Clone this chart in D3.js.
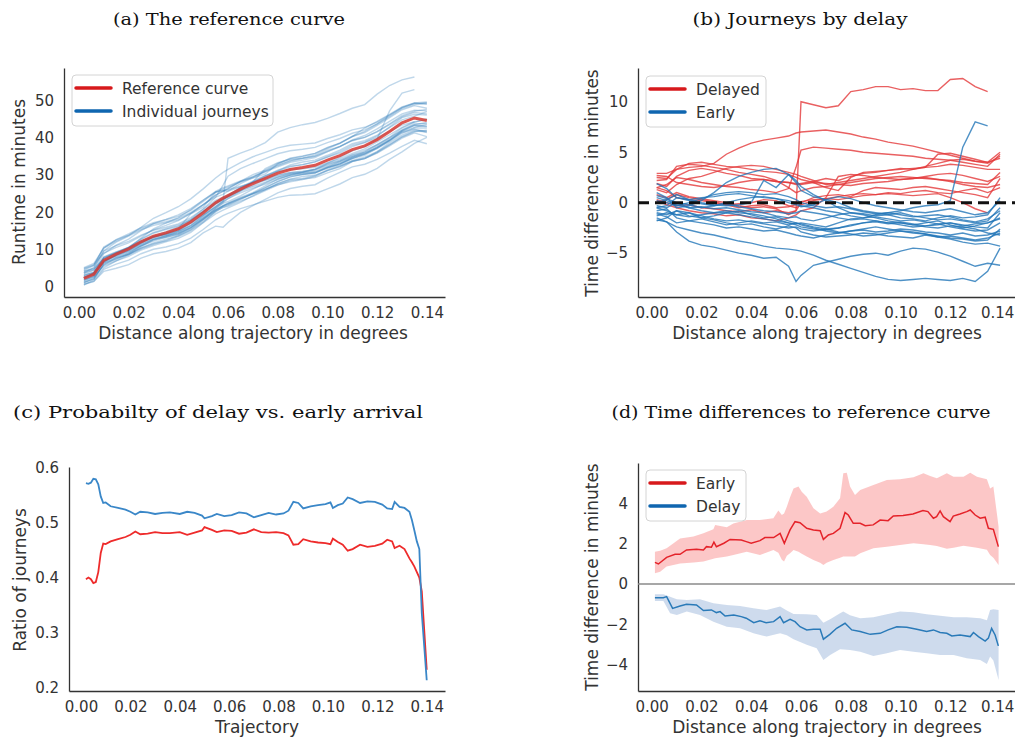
<!DOCTYPE html>
<html lang="en">
<head>
<meta charset="UTF-8">
<title>Reference curve and journey delays</title>
<script src="https://d3js.org/d3.v7.min.js"></script>
<style>
  body { margin: 0; background: #fff; }
  svg text { font-family: "DejaVu Sans", sans-serif; }
</style>
</head>
<body>
<svg width="1015" height="738"></svg>
<script>
// ---------- data ----------

// distance along trajectory (degrees), shared by panels (a) and (b)
const distance = [0.002, 0.006, 0.01, 0.015, 0.02, 0.025, 0.03, 0.035, 0.04, 0.045,
  0.05, 0.055, 0.058, 0.06, 0.065, 0.07, 0.075, 0.08, 0.085, 0.09,
  0.095, 0.1, 0.105, 0.11, 0.115, 0.12, 0.125, 0.13, 0.135, 0.14];

// reference runtime in minutes
const referenceCurve = [2.3, 3.4, 7.1, 8.8, 10.2, 12.1, 13.6, 14.5, 15.6, 17.4,
  19.9, 22.6, 23.8, 24.5, 26.2, 27.7, 29.1, 30.5, 31.5, 32.0,
  32.6, 34.0, 35.2, 36.8, 37.8, 39.5, 41.7, 44.0, 45.3, 44.6];

// time difference to the reference curve, delayed journeys
const delayedDiffs = [
  [0.3, 0.0, -0.3, -0.2, -0.5, -0.6, -0.8, -0.9, -0.7, -1.0, -0.8, -1.0, -0.8, 10.0, 9.7, 9.4, 9.6, 11.0, 11.2, 11.5, 11.5, 11.2, 11.3, 11.1, 11.1, 12.2, 12.3, 11.5, 11.0, null],
  [2.9, 2.9, 3.3, 3.5, 3.6, 3.9, 4.8, 5.4, 5.9, 6.2, 6.4, 6.6, 6.9, 7.0, 7.1, 7.2, 7.0, 6.8, 6.5, 6.3, 6.0, 5.8, 5.6, 5.3, 5.0, 4.7, 4.4, 4.1, 3.9, 4.6],
  [1.5, 1.8, 2.5, 2.3, 2.0, 1.8, 1.6, 1.5, 1.3, 1.2, 1.0, 1.4, 3.5, 5.2, 5.5, 5.4, 5.3, 5.2, 5.0, 4.9, 4.8, 4.7, 4.6, 4.4, 4.3, 4.2, 4.0, 3.8, 3.6, 4.8],
  [2.2, 2.3, 3.6, 3.8, 3.7, 3.5, 3.3, 3.0, 2.8, 2.6, 2.2, 1.5, 1.0, 1.2, 1.5, 1.6, 1.8, 2.0, 2.2, 2.4, 2.5, 2.6, 2.5, 2.4, 2.3, 2.2, 2.0, 1.9, 1.8, 3.0],
  [2.5, 2.4, 3.3, 3.9, 4.0, 3.8, 3.6, 3.5, 3.3, 3.1, 3.0, 2.8, 2.5, 2.3, 2.0, 1.5, 1.2, 2.5, 3.0, 3.1, 3.2, 3.3, 3.4, 3.5, 4.8, 4.9, 4.6, 4.3, 4.0, 4.4],
  [0.8, 0.5, 1.0, 0.6, 0.4, 0.2, 0.0, -0.3, -0.5, -0.4, -0.6, -1.2, -0.8, 0.0, 0.5, 0.7, 0.8, 0.6, 1.2, 1.5, 1.4, 1.3, 1.5, 1.6, 1.4, 1.2, 1.0, 0.8, 0.5, 2.4],
  [1.5, 1.2, 0.5, 0.3, 0.2, 0.0, -0.2, -0.1, 0.0, 0.3, 0.2, -0.3, -0.5, -0.2, 0.2, 0.4, 0.3, 0.5, 0.7, 0.8, 0.9, 0.8, 0.7, 0.8, 0.9, 0.5, 0.0, -0.6, -1.0, null],
  [2.7, 2.6, 2.0, 1.8, 1.6, 1.5, 1.7, 2.0, 2.2, 2.3, 2.1, 2.0, 1.8, 1.9, 2.1, 2.4, 2.2, 2.6, 2.9, 3.0, 3.2, 3.4, 3.3, 3.5, 3.6, 3.8, 3.7, 3.5, 3.3, 3.3],
  [0.2, -0.2, -0.5, -0.8, -1.0, -1.1, -1.3, -1.2, -1.5, -1.6, -1.8, -1.5, -1.2, -0.8, -0.5, 0.5, 2.6, 2.8, 2.7, 2.5, 2.4, 2.3, 2.4, 2.5, 2.3, 2.1, 1.8, 1.6, 1.5, 1.8],
  [1.9, 1.6, 2.6, 3.2, 3.4, 3.2, 2.9, 2.7, 2.4, 2.3, 2.1, 2.0, 1.9, 1.8, 2.0, 1.9, 1.8, 1.7, 1.9, 2.0, 2.1, 2.3, 2.4, 2.6, 2.8, 2.9, 2.7, 2.4, 2.1, 2.6],
  [0.0, 0.3, 0.8, 0.5, 0.3, 0.1, -0.2, -0.5, -0.3, -0.2, -0.5, -0.4, -0.2, 0.1, 0.3, 0.4, 0.6, 0.8, 0.9, 0.8, 1.0, 0.9, 1.1, 1.2, 1.0, 0.9, 1.2, 1.4, 1.0, 1.5],
  [1.3, 1.0, 1.8, 2.4, 2.6, 3.0, 3.4, 3.6, 3.7, 3.6, 3.3, 3.0, 2.8, 2.6, 2.2, 1.8, 2.0, 2.2, 2.4, 2.6, 2.8, 3.0, 3.3, 3.6, 3.9, 4.2, 4.3, 4.1, 4.0, 5.0]
];

// time difference to the reference curve, early journeys
const earlyDiffs = [
  [-1.5, -1.9, -2.9, -3.8, -4.2, -4.4, -4.7, -5.0, -5.2, -5.5, -5.4, -6.3, -7.8, -7.2, -6.2, -5.9, -5.6, -5.3, -5.1, -5.0, -5.2, -4.8, -4.5, -4.6, -4.9, -5.3, -5.8, -6.3, -6.0, -6.2],
  [-1.7, -1.9, -2.4, -2.7, -3.0, -3.2, -3.5, -3.8, -4.0, -4.3, -4.5, -4.6, -4.7, -4.8, -5.2, -5.7, -6.1, -6.5, -6.9, -7.3, -7.6, -7.7, -7.6, -7.5, -7.6, -7.7, -7.5, -7.8, -6.8, -4.5],
  [-0.5, -0.8, -1.2, -1.0, -1.5, -1.3, -1.0, -1.2, -1.4, -1.6, -1.8, -2.0, -2.1, -2.0, -2.2, -2.4, -2.0, -1.6, -1.5, -1.2, -1.0, -0.8, -0.5, -0.3, -0.2, 0.2, 5.5, 8.0, 7.6, null],
  [1.0, 0.5, -0.5, -0.3, 0.2, 1.0, 2.0, 2.6, 3.0, 3.3, 3.4, 2.8, 2.2, 1.6, 0.8, 0.2, -0.5, -1.0, -1.2, -1.5, -1.8, -2.0, -2.2, -2.0, -1.8, -2.2, -2.5, -2.3, -2.0, -1.6],
  [1.9, 1.4, 0.5, 0.3, 0.0, -0.2, -0.3, -0.2, 0.0, 2.2, 1.5, 2.8, 2.0, 1.2, 0.6, 0.3, 0.0, -0.5, -0.8, -1.0, -1.2, -1.5, -1.6, -1.8, -1.5, -1.3, -1.5, -1.4, -1.2, 0.5],
  [-0.3, -0.5, 0.0, -0.5, -0.8, -1.0, -1.0, -0.8, -1.2, -1.5, -1.4, -1.8, -2.0, -2.2, -2.5, -2.8, -3.0, -2.8, -2.6, -2.4, -2.6, -2.8, -3.0, -3.1, -3.3, -3.5, -3.6, -3.8, -3.7, -2.6],
  [-1.0, -1.2, -0.8, -1.3, -1.5, -1.7, -2.0, -2.2, -2.1, -2.4, -2.6, -2.3, -2.5, -2.9, -3.2, -3.4, -3.3, -3.2, -3.0, -3.1, -3.3, -3.4, -3.5, -3.2, -3.4, -3.6, -3.9, -4.1, -4.0, -4.3],
  [0.5, 0.2, -0.2, -0.5, -0.4, -0.6, -0.5, -0.7, -0.9, -1.0, -1.3, -1.5, -1.4, -1.6, -1.8, -1.5, -1.2, -1.0, -1.1, -1.3, -1.2, -1.0, -1.3, -1.5, -1.7, -1.6, -1.8, -2.0, -1.8, -0.5],
  [-0.8, -0.6, -1.5, -1.8, -2.0, -2.2, -2.5, -2.4, -2.6, -2.8, -2.7, -3.0, -3.2, -3.3, -3.5, -3.2, -3.0, -2.8, -2.7, -2.9, -2.8, -2.6, -2.7, -2.9, -3.0, -3.2, -3.0, -3.3, -3.2, -2.8],
  [0.0, 0.3, 0.8, 0.3, 0.5, 0.6, 0.8, 0.9, 0.7, 0.5, 0.4, 0.2, 0.0, -0.3, -0.5, -0.8, -1.0, -1.3, -1.5, -1.4, -1.6, -1.8, -1.7, -1.9, -2.1, -2.0, -2.3, -2.1, -2.0, -1.5],
  [-1.3, -1.0, -1.2, -1.4, -1.2, -1.0, -0.8, -1.0, -1.1, -1.3, -1.6, -2.0, -2.2, -2.4, -2.6, -2.7, -2.5, -2.3, -2.0, -1.8, -2.0, -2.2, -2.4, -2.3, -2.1, -2.4, -2.6, -2.8, -2.7, -2.0],
  [-0.5, -0.3, 0.5, 0.2, -0.1, -0.3, 0.0, 0.3, 0.5, 0.6, 0.4, 0.0, -0.2, -0.4, -0.2, 0.3, 0.6, 0.4, 0.0, -0.3, -0.5, -0.7, -0.9, -1.0, -0.8, -0.6, -0.9, -1.2, -1.0, 0.2],
  [-1.8, -1.5, -0.8, -1.0, -1.3, -1.6, -1.8, -1.7, -1.9, -2.1, -2.3, -2.5, -2.4, -2.6, -2.8, -2.6, -2.5, -2.2, -2.0, -1.9, -2.1, -2.0, -2.2, -2.4, -2.5, -2.3, -2.4, -2.6, -3.0, -3.2],
  [0.2, 0.0, -0.3, 0.0, 0.4, 0.8, 1.0, 1.1, 1.0, 0.8, 0.9, 0.6, 0.3, 0.0, -0.3, -0.5, -0.4, -0.6, -0.9, -1.1, -1.0, -1.2, -1.4, -1.3, -1.2, -1.4, -1.7, -1.9, -1.6, -0.8],
  [-1.1, -1.4, -2.0, -1.8, -1.6, -1.9, -2.2, -2.0, -1.8, -2.0, -1.9, -2.2, -2.0, -2.1, -2.4, -2.6, -2.9, -3.1, -3.3, -3.2, -3.0, -2.8, -2.9, -3.1, -3.4, -3.3, -3.5, -3.7, -3.5, -3.0],
  [0.7, 0.4, 0.0, -0.2, -0.5, -0.3, -0.1, -0.4, -0.6, -0.8, -0.9, -1.1, -1.0, -0.8, -1.0, -1.2, -1.5, -1.7, -1.6, -1.8, -2.0, -1.9, -2.1, -2.3, -2.2, -2.0, -2.2, -2.4, -2.5, -1.0]
];

// panel (c): ratio of journeys along the trajectory
const ratioX = [0.002, 0.003, 0.004, 0.005, 0.006, 0.007, 0.008, 0.009, 0.010,
  0.012, 0.015, 0.018, 0.020, 0.022, 0.024, 0.027,
  0.030, 0.033, 0.036, 0.040, 0.043, 0.046, 0.049, 0.050,
  0.053, 0.055, 0.058, 0.061, 0.064, 0.067, 0.070, 0.073, 0.076, 0.079,
  0.082, 0.084, 0.086, 0.088, 0.090, 0.093, 0.096, 0.099, 0.101, 0.102,
  0.104, 0.106, 0.108, 0.110, 0.113, 0.116, 0.119, 0.122, 0.124, 0.126,
  0.127, 0.129, 0.131, 0.133, 0.134, 0.135, 0.136, 0.137, 0.138, 0.140];
const ratioBlue = [0.572, 0.571, 0.573, 0.580, 0.579, 0.570, 0.548, 0.536, 0.537,
  0.530, 0.527, 0.524, 0.520, 0.515, 0.520, 0.519,
  0.516, 0.518, 0.519, 0.516, 0.520, 0.518, 0.513, 0.508,
  0.512, 0.516, 0.512, 0.514, 0.519, 0.517, 0.510, 0.514, 0.518, 0.515,
  0.517, 0.522, 0.538, 0.536, 0.526, 0.530, 0.532, 0.534, 0.537, 0.527,
  0.532, 0.535, 0.546, 0.543, 0.536, 0.539, 0.538, 0.533, 0.526, 0.525,
  0.538, 0.529, 0.527, 0.520, 0.505, 0.486, 0.466, 0.452, 0.335, 0.213];
const ratioRed = [0.397, 0.400, 0.397, 0.390, 0.392, 0.410, 0.445, 0.462, 0.461,
  0.466, 0.470, 0.474, 0.478, 0.484, 0.479, 0.480,
  0.483, 0.481, 0.481, 0.483, 0.478, 0.482, 0.486, 0.492,
  0.487, 0.483, 0.486, 0.485, 0.480, 0.482, 0.488, 0.483, 0.482, 0.483,
  0.481, 0.477, 0.460, 0.461, 0.470, 0.466, 0.464, 0.463, 0.461, 0.471,
  0.465, 0.460, 0.449, 0.452, 0.460, 0.456, 0.458, 0.462, 0.469, 0.466,
  0.454, 0.458, 0.452, 0.435, 0.428, 0.420, 0.410, 0.400, 0.375, 0.232];

// panel (d): mean time difference of early journeys, as [distance, value]
const earlyMean = [[0.0013, 1.07], [0.0027, 0.99], [0.006, 1.32], [0.0094, 1.47], [0.0114, 1.47], [0.014, 1.69],
  [0.018, 1.72], [0.0208, 1.69], [0.022, 1.85], [0.024, 1.82], [0.025, 2.07], [0.026, 1.85], [0.029, 2.02],
  [0.0315, 2.21], [0.036, 2.18], [0.038, 2.10], [0.040, 2.02], [0.0435, 2.15], [0.0455, 2.30], [0.049, 2.30],
  [0.0516, 2.51], [0.0533, 2.02], [0.0556, 2.68], [0.0576, 3.09], [0.0596, 3.04], [0.0623, 2.76], [0.065, 2.68],
  [0.0677, 2.64], [0.069, 2.21], [0.071, 2.43], [0.073, 2.51], [0.0757, 2.76], [0.0777, 3.54], [0.079, 3.42],
  [0.081, 3.01], [0.0838, 3.01], [0.0858, 2.89], [0.089, 2.93], [0.0918, 3.17], [0.095, 3.14], [0.0971, 3.37],
  [0.101, 3.40], [0.105, 3.47], [0.109, 3.64], [0.111, 3.59], [0.1132, 3.26], [0.1145, 3.34], [0.1159, 3.62],
  [0.1172, 3.34], [0.1199, 3.09], [0.1212, 3.37], [0.1239, 3.47], [0.1266, 3.59], [0.128, 3.67], [0.130, 3.42],
  [0.132, 3.26], [0.134, 3.31], [0.1353, 2.76], [0.1373, 2.71], [0.1393, 1.85]];
// spread band of early journeys: [distance, low, high]
const earlyBand = [[0.0013, 0.53, 1.60], [0.0034, 0.61, 1.65], [0.006, 0.86, 1.77], [0.0114, 1.02, 2.26],
  [0.0168, 1.06, 2.35], [0.0208, 1.12, 2.51], [0.0248, 1.25, 2.71], [0.0255, 1.28, 2.93], [0.0302, 1.36, 2.81],
  [0.0328, 1.44, 3.0], [0.0382, 1.60, 3.17], [0.0435, 1.44, 3.17], [0.0489, 1.69, 3.26], [0.0509, 1.55, 3.64],
  [0.0523, 1.20, 3.42], [0.0532, 1.11, 3.5], [0.0543, 1.40, 3.83], [0.0556, 1.52, 4.3], [0.057, 1.69, 4.74],
  [0.059, 1.60, 4.83], [0.0603, 1.50, 4.58], [0.0623, 1.36, 4.33], [0.065, 1.19, 3.75], [0.0677, 1.05, 3.50],
  [0.069, 0.94, 3.55], [0.0703, 1.05, 3.59], [0.073, 1.19, 3.83], [0.0757, 1.30, 4.25], [0.077, 1.36, 5.49],
  [0.0784, 1.36, 5.52], [0.0797, 1.36, 4.83], [0.0817, 1.36, 4.41], [0.0838, 1.52, 4.66], [0.0891, 1.77, 4.91],
  [0.0945, 1.85, 5.16], [0.0998, 1.93, 5.19], [0.1052, 2.02, 5.29], [0.1092, 1.97, 5.49], [0.1119, 1.93, 5.36],
  [0.1146, 1.88, 5.24], [0.1186, 1.75, 5.49], [0.1213, 1.80, 5.32], [0.1253, 1.90, 5.32], [0.128, 1.85, 5.52],
  [0.1307, 1.80, 5.32], [0.1347, 1.70, 5.19], [0.136, 1.44, 4.74], [0.1373, 1.30, 4.83], [0.1394, 0.94, 2.84]];
// mean time difference of delayed journeys
const delayMean = [[0.0013, -0.68], [0.0047, -0.68], [0.006, -0.63], [0.0084, -1.21], [0.0114, -1.09], [0.014, -1.01],
  [0.018, -1.04], [0.0208, -1.32], [0.024, -1.29], [0.026, -1.42], [0.0275, -1.37], [0.0295, -1.59], [0.033, -1.54],
  [0.036, -1.62], [0.038, -1.70], [0.041, -1.92], [0.0435, -1.83], [0.046, -1.92], [0.049, -1.87], [0.0516, -1.62],
  [0.053, -1.92], [0.0556, -1.75], [0.0576, -1.87], [0.0596, -2.12], [0.0623, -2.28], [0.065, -2.25], [0.0677, -2.25],
  [0.069, -2.74], [0.0716, -2.50], [0.0743, -2.20], [0.0777, -1.95], [0.0804, -2.28], [0.0838, -2.36], [0.0878, -2.50],
  [0.0918, -2.45], [0.095, -2.28], [0.0985, -2.12], [0.1025, -2.15], [0.1065, -2.25], [0.1105, -2.36], [0.1132, -2.28],
  [0.1159, -2.41], [0.1186, -2.45], [0.1206, -2.58], [0.1239, -2.53], [0.128, -2.61], [0.1293, -2.41], [0.1313, -2.61],
  [0.134, -2.83], [0.1353, -2.69], [0.1366, -2.20], [0.138, -2.53], [0.1393, -3.07]];
const delayBand = [[0.0013, -0.84, -0.51], [0.0047, -0.84, -0.51], [0.0074, -1.45, -0.63], [0.0101, -1.54, -0.76],
  [0.0141, -1.37, -0.79], [0.0194, -1.54, -0.76], [0.0248, -1.87, -0.96], [0.0302, -2.12, -1.04], [0.0355, -2.20, -1.09],
  [0.0409, -2.45, -1.21], [0.0462, -2.61, -1.29], [0.0516, -2.45, -1.12], [0.0543, -2.55, -1.32], [0.057, -2.74, -1.49],
  [0.0623, -3.02, -1.50], [0.0663, -3.19, -1.54], [0.069, -3.77, -1.92], [0.0717, -3.52, -1.75], [0.0757, -3.24, -1.45],
  [0.077, -3.25, -1.37], [0.0797, -3.27, -1.55], [0.0838, -3.36, -1.70], [0.0891, -3.57, -1.65], [0.0945, -3.44, -1.50],
  [0.0998, -3.27, -1.37], [0.1052, -3.36, -1.40], [0.1105, -3.44, -1.50], [0.1159, -3.52, -1.58], [0.1213, -3.52, -1.65],
  [0.1266, -3.69, -1.65], [0.132, -3.77, -1.70], [0.1347, -3.97, -1.80], [0.136, -3.60, -1.29], [0.1373, -3.80, -1.26],
  [0.1394, -4.76, -1.29]];

const distTicks = [0, 0.02, 0.04, 0.06, 0.08, 0.10, 0.12, 0.14];
const runtimeTicks = [0, 10, 20, 30, 40, 50];
const diffTicks = [-5, 0, 5, 10];
const ratioTicks = [0.2, 0.3, 0.4, 0.5, 0.6];
const meanTicks = [-4, -2, 0, 2, 4];

// ---------- drawing ----------
const svg = d3.select("svg");
const RED = "#d7191c", BLUE = "#0f66b0";
const INK = "#333";

function panel(f) {
  const x = d3.scaleLinear().domain(f.xd).range([f.L, f.R]);
  const y = d3.scaleLinear().domain(f.yd).range([f.B, f.T]);
  const g = svg.append("g");

  const styleAxis = a => {
    a.attr("font-size", 15).attr("font-family", "DejaVu Sans").attr("color", INK);
    a.select(".domain").attr("stroke", INK).attr("stroke-width", 1.3);
  };
  const xAxis = g.append("g")
    .attr("transform", "translate(0," + f.B + ")")
    .call(d3.axisBottom(x).tickValues(distTicks).tickFormat(d3.format(".2f")).tickSize(0).tickPadding(10))
    .call(styleAxis);
  // right-hand panels run to the page edge: keep the last label on the page
  if (f.R > 1015) xAxis.selectAll(".tick:last-of-type text").attr("dx", -3);
  g.append("g")
    .attr("transform", "translate(" + f.L + ",0)")
    .call(d3.axisLeft(y).tickValues(f.yTicks).tickFormat(f.yFmt).tickSize(0).tickPadding(10))
    .call(styleAxis);

  // axis titles
  g.append("text")
    .attr("x", f.xLabelX).attr("y", f.xLabelY)
    .attr("text-anchor", "middle").attr("font-size", 17).attr("fill", INK)
    .text(f.xLabel);
  g.append("text")
    .attr("transform", "translate(" + f.yLabelX + "," + f.yLabelY + ") rotate(-90)")
    .attr("text-anchor", "middle").attr("font-size", 17).attr("fill", INK)
    .text(f.yLabel);

  // panel title (LaTeX-like serif), stretched to the width it has in the figure
  svg.append("text")
    .attr("x", f.titleX).attr("y", f.titleY)
    .attr("text-anchor", "middle")
    .style("font-family", "'DejaVu Serif', serif")
    .attr("font-size", 17.5).attr("fill", "#111")
    .attr("textLength", f.titleW).attr("lengthAdjust", "spacingAndGlyphs")
    .text(f.title);
  return { g, x, y };
}

function legend(g, x0, y0, w, entries) {
  const h = 51;
  g.append("rect")
    .attr("x", x0).attr("y", y0).attr("width", w).attr("height", h)
    .attr("rx", 4).attr("fill", "#fff").attr("fill-opacity", 0.85)
    .attr("stroke", "#d4d4d4").attr("stroke-width", 1);
  entries.forEach((e, i) => {
    const cy = y0 + 13 + i * 23;
    g.append("line")
      .attr("x1", x0 + 4).attr("x2", x0 + 39).attr("y1", cy).attr("y2", cy)
      .attr("stroke", e.color).attr("stroke-width", 3.5).attr("stroke-linecap", "round");
    g.append("text")
      .attr("x", x0 + 50).attr("y", cy + 5.5)
      .attr("font-size", 15.5).attr("fill", INK)
      .text(e.label);
  });
}

const lineOf = (x, y) => d3.line()
  .defined(d => d[1] != null)
  .x(d => x(d[0])).y(d => y(d[1]));

// ----- (a) the reference curve -----
{
  const { g, x, y } = panel({
    L: 64, R: 445, T: 68, B: 297, xd: [-0.006, 0.1473], yd: [-2.7, 58.7],
    yTicks: runtimeTicks, yFmt: d3.format("d"),
    xLabel: "Distance along trajectory in degrees", xLabelX: 253, xLabelY: 339,
    yLabel: "Runtime in minutes", yLabelX: 25, yLabelY: 182,
    title: "(a) The reference curve", titleX: 229, titleY: 25, titleW: 232
  });
  const line = lineOf(x, y);
  // each journey's runtime = reference runtime + its time difference
  delayedDiffs.concat(earlyDiffs).forEach(diff => {
    const pts = distance.map((d, i) => [d, diff[i] == null ? null : referenceCurve[i] + diff[i]]);
    g.append("path").attr("d", line(pts))
      .attr("fill", "none").attr("stroke", "#2a7ab9").attr("stroke-opacity", 0.3).attr("stroke-width", 1.4);
  });
  g.append("path").attr("d", line(distance.map((d, i) => [d, referenceCurve[i]])))
    .attr("fill", "none").attr("stroke", "#d63a32").attr("stroke-opacity", 0.85).attr("stroke-width", 3);
  legend(g, 72, 75, 201, [{ label: "Reference curve", color: RED }, { label: "Individual journeys", color: BLUE }]);
}

// ----- (b) journeys by delay -----
{
  const { g, x, y } = panel({
    L: 638, R: 1018, T: 68, B: 297, xd: [-0.0055, 0.1472], yd: [-9.34, 13.34],
    yTicks: diffTicks, yFmt: d3.format("d"),
    xLabel: "Distance along trajectory in degrees", xLabelX: 827, xLabelY: 339,
    yLabel: "Time difference in minutes", yLabelX: 598, yLabelY: 183,
    title: "(b) Journeys by delay", titleX: 800, titleY: 25, titleW: 215
  });
  const line = lineOf(x, y);
  delayedDiffs.forEach(diff => {
    g.append("path").attr("d", line(distance.map((d, i) => [d, diff[i]])))
      .attr("fill", "none").attr("stroke", "#e3383a").attr("stroke-opacity", 0.8).attr("stroke-width", 1.4);
  });
  earlyDiffs.forEach(diff => {
    g.append("path").attr("d", line(distance.map((d, i) => [d, diff[i]])))
      .attr("fill", "none").attr("stroke", "#2275b8").attr("stroke-opacity", 0.8).attr("stroke-width", 1.4);
  });
  g.append("line")
    .attr("x1", x.range()[0]).attr("x2", x.range()[1]).attr("y1", y(0)).attr("y2", y(0))
    .attr("stroke", "#111").attr("stroke-width", 3).attr("stroke-dasharray", "11,6");
  legend(g, 646, 76, 120, [{ label: "Delayed", color: RED }, { label: "Early", color: BLUE }]);
}

// ----- (c) probability of delay vs. early arrival -----
{
  const { g, x, y } = panel({
    L: 69, R: 445, T: 467, B: 691, xd: [-0.00486, 0.1474], yd: [0.1933, 0.6016],
    yTicks: ratioTicks, yFmt: d3.format(".1f"),
    xLabel: "Trajectory", xLabelX: 257, xLabelY: 733,
    yLabel: "Ratio of journeys", yLabelX: 26, yLabelY: 580,
    title: "(c) Probabilty of delay vs. early arrival", titleX: 218, titleY: 418, titleW: 410
  });
  const line = lineOf(x, y);
  g.append("path").attr("d", line(ratioX.map((d, i) => [d, ratioRed[i]])))
    .attr("fill", "none").attr("stroke", "#ee2b2b").attr("stroke-width", 1.8);
  g.append("path").attr("d", line(ratioX.map((d, i) => [d, ratioBlue[i]])))
    .attr("fill", "none").attr("stroke", "#3a87c8").attr("stroke-width", 1.8);
}

// ----- (d) time differences to reference curve -----
{
  const { g, x, y } = panel({
    L: 638, R: 1018, T: 463, B: 691, xd: [-0.0055, 0.1472], yd: [-5.31, 6.0],
    yTicks: meanTicks, yFmt: d3.format("d"),
    xLabel: "Distance along trajectory in degrees", xLabelX: 827, xLabelY: 733,
    yLabel: "Time difference in minutes", yLabelX: 598, yLabelY: 577,
    title: "(d) Time differences to reference curve", titleX: 801, titleY: 418, titleW: 379
  });
  const area = d3.area().x(d => x(d[0])).y0(d => y(d[1])).y1(d => y(d[2]));
  const line = lineOf(x, y);
  g.append("path").attr("d", area(earlyBand)).attr("fill", "#fcbdbd").attr("fill-opacity", 0.85);
  g.append("path").attr("d", area(delayBand)).attr("fill", "#c5d5ea").attr("fill-opacity", 0.85);
  g.append("line")
    .attr("x1", x.range()[0]).attr("x2", x.range()[1]).attr("y1", y(0)).attr("y2", y(0))
    .attr("stroke", "#8a8a8a").attr("stroke-width", 1.5);
  g.append("path").attr("d", line(earlyMean))
    .attr("fill", "none").attr("stroke", "#e4232a").attr("stroke-width", 1.5);
  g.append("path").attr("d", line(delayMean))
    .attr("fill", "none").attr("stroke", "#2a7ab8").attr("stroke-width", 1.5);
  legend(g, 646, 470, 100, [{ label: "Early", color: RED }, { label: "Delay", color: BLUE }]);
}
</script>
</body>
</html>
